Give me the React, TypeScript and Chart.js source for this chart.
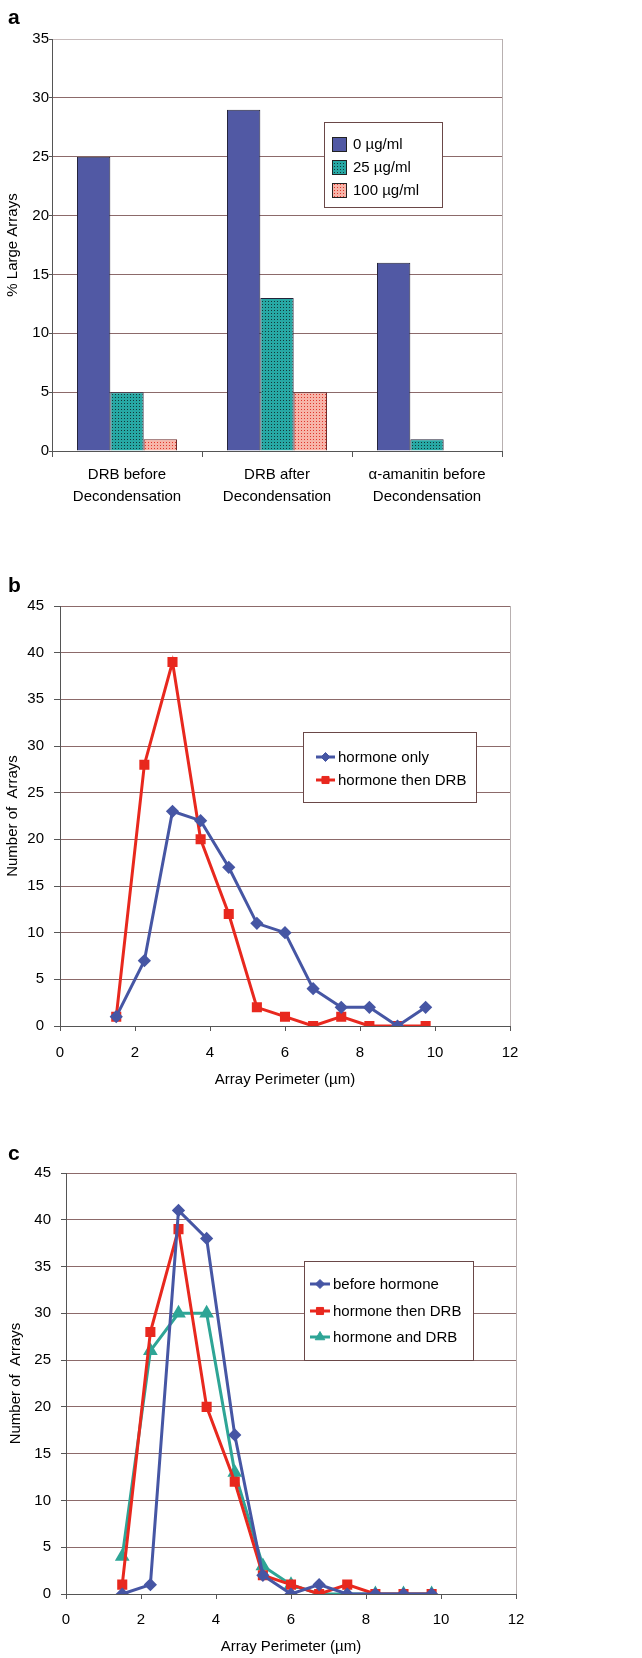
import React, { useEffect, useRef } from "react";
import { Chart, registerables } from "chart.js";

Chart.register(...registerables);

const FONT = '"Liberation Sans", Arial, Helvetica, sans-serif';
Chart.defaults.font.family = FONT;
Chart.defaults.font.size = 15;
Chart.defaults.color = "#000";

// ---------- DATA ----------
const barCategories = [
  ["DRB before", "Decondensation"],
  ["DRB after", "Decondensation"],
  ["α-amanitin before", "Decondensation"],
];
const bar0 = [25, 29, 16];
const bar25 = [5, 13, 1];
const bar100: (number | null)[] = [1, 5, null];
const barLabels = ["0 µg/ml", "25 µg/ml", "100 µg/ml"];

const perimeter = [1.5, 2.25, 3, 3.75, 4.5, 5.25, 6, 6.75, 7.5, 8.25, 9, 9.75];
const bHormoneOnly = [1, 7, 23, 22, 17, 11, 10, 4, 2, 2, 0, 2];
const bHormoneThenDRB = [1, 28, 39, 20, 12, 2, 1, 0, 1, 0, 0, 0];
const cBeforeHormone = [0, 1, 41, 38, 17, 2, 0, 1, 0, 0, 0, 0];
const cHormoneThenDRB = [1, 28, 39, 20, 12, 2, 1, 0, 1, 0, 0, 0];
const cHormoneAndDRB = [4, 26, 30, 30, 13, 3, 1, 0, 0, 0, 0, 0];

const BLUE = "#4656a4";
const RED = "#e8281e";
const TEAL = "#2ea596";
const GRID = "#8c6a6a";
const AXIS = "#555";
const FRAME = "#b8b0b0";

const toPts = (ys: number[]) => perimeter.map((x, i) => ({ x, y: ys[i] }));

function makePattern(bg: string, dot: string) {
  const c = document.createElement("canvas");
  c.width = 3;
  c.height = 3;
  const g = c.getContext("2d")!;
  g.fillStyle = bg;
  g.fillRect(0, 0, 3, 3);
  g.fillStyle = dot;
  g.fillRect(1, 1, 1, 1);
  return g.createPattern(c, "repeat")!;
}

function drawMarker(ctx: CanvasRenderingContext2D, style: string, x: number, y: number, r: number) {
  ctx.beginPath();
  if (style === "rect") {
    const s = Math.SQRT1_2 * r;
    ctx.rect(x - s, y - s, 2 * s, 2 * s);
  } else if (style === "rectRot") {
    ctx.moveTo(x, y - r);
    ctx.lineTo(x + r, y);
    ctx.lineTo(x, y + r);
    ctx.lineTo(x - r, y);
    ctx.closePath();
  } else if (style === "triangle") {
    const h = r * 1.5;
    ctx.moveTo(x, y - r);
    ctx.lineTo(x + h * 0.58, y + r * 0.5);
    ctx.lineTo(x - h * 0.58, y + r * 0.5);
    ctx.closePath();
  }
  ctx.fill();
  ctx.stroke();
}

const boxLegend = {
  id: "boxLegend",
  afterDraw(chart: any, _args: any, opts: any) {
    if (!opts || !opts.box) return;
    const ctx: CanvasRenderingContext2D = chart.ctx;
    const { x, y, w, h } = opts.box;
    ctx.save();
    ctx.fillStyle = "#fff";
    ctx.fillRect(x, y, w, h);
    ctx.strokeStyle = "#6a4848";
    ctx.lineWidth = 1;
    ctx.strokeRect(x + 0.5, y + 0.5, w, h);
    ctx.font = "15px " + FONT;
    ctx.textBaseline = "middle";
    ctx.textAlign = "left";
    chart.data.datasets.forEach((ds: any, i: number) => {
      const cy = opts.rows[i];
      if (opts.kind === "box") {
        ctx.fillStyle = ds.backgroundColor;
        ctx.fillRect(opts.sx, cy - 7, 15, 15);
        ctx.strokeStyle = "#222";
        ctx.strokeRect(opts.sx + 0.5, cy - 6.5, 14, 14);
      } else {
        ctx.strokeStyle = ds.borderColor;
        ctx.lineWidth = ds.borderWidth;
        ctx.beginPath();
        ctx.moveTo(opts.sx, cy);
        ctx.lineTo(opts.sx2, cy);
        ctx.stroke();
        ctx.fillStyle = ds.pointBackgroundColor;
        ctx.lineWidth = 1;
        drawMarker(ctx, ds.pointStyle, (opts.sx + opts.sx2) / 2, cy, ds.pointRadius);
      }
      ctx.fillStyle = "#000";
      ctx.fillText(ds.label, opts.tx, cy + 1);
    });
    ctx.restore();
  },
};

const frame = {
  id: "frame",
  beforeDatasetsDraw(chart: any) {
    const { ctx, chartArea } = chart;
    ctx.save();
    ctx.strokeStyle = FRAME;
    ctx.lineWidth = 1;
    ctx.beginPath();
    ctx.moveTo(Math.round(chartArea.right) + 0.5, chartArea.top);
    ctx.lineTo(Math.round(chartArea.right) + 0.5, chartArea.bottom);
    ctx.stroke();
    ctx.restore();
  },
};

function lineDs(label: string, ys: number[], color: string, style: string, r: number) {
  return {
    label,
    data: toPts(ys),
    borderColor: color,
    backgroundColor: color,
    pointBackgroundColor: color,
    pointBorderColor: color,
    pointStyle: style,
    pointRadius: r,
    borderWidth: 3,
    tension: 0,
  };
}

function lineOptions(cfg: any) {
  return {
    responsive: false,
    animation: false,
    events: [],
    layout: { padding: cfg.padding },
    plugins: {
      legend: { display: false },
      tooltip: { enabled: false },
      boxLegend: cfg.legend,
    },
    scales: {
      x: {
        type: "linear",
        min: 0,
        max: 12,
        ticks: { stepSize: 2, padding: cfg.xPad, color: "#000" },
        grid: { drawOnChartArea: false, drawTicks: true, tickLength: 5, tickColor: AXIS },
        border: { color: AXIS, width: 1 },
        title: { display: true, text: "Array Perimeter (µm)", padding: { top: 0, bottom: cfg.xTitlePad }, color: "#000" },
        afterFit: (s: any) => {
          s.height = cfg.xH;
        },
      },
      y: {
        min: 0,
        max: 45,
        ticks: { stepSize: 5, padding: cfg.yPad, color: "#000" },
        grid: { color: GRID, tickColor: AXIS, tickLength: cfg.yTick, lineWidth: 1 },
        border: { color: AXIS, width: 1 },
        title: { display: true, text: "Number of  Arrays", padding: { top: cfg.yTitlePad, bottom: 0 }, color: "#000" },
        afterFit: (s: any) => {
          s.width = cfg.yW;
        },
      },
    },
  };
}

function useChart(ref: React.RefObject<HTMLCanvasElement>, build: () => any) {
  useEffect(() => {
    if (!ref.current) return;
    const chart = new Chart(ref.current, build());
    return () => chart.destroy();
  }, []);
}

export default function App() {
  const aRef = useRef<HTMLCanvasElement>(null);
  const bRef = useRef<HTMLCanvasElement>(null);
  const cRef = useRef<HTMLCanvasElement>(null);

  useChart(aRef, () => {
    const teal = makePattern("#27a8a4", "#143838");
    const pink = makePattern("#f7b4a8", "#e0372c");
    return {
      type: "bar",
      data: {
        labels: barCategories,
        datasets: [
          { label: barLabels[0], data: bar0, backgroundColor: "#5159a4", borderColor: "#23233a", borderWidth: 1 },
          { label: barLabels[1], data: bar25, backgroundColor: teal, borderColor: "#23233a", borderWidth: 1 },
          { label: barLabels[2], data: bar100, backgroundColor: pink, borderColor: "#6a2a2a", borderWidth: 1 },
        ],
      },
      options: {
        responsive: false,
        animation: false,
        events: [],
        layout: { padding: { left: 0, top: 39, right: 140, bottom: 19 } },
        datasets: { bar: { categoryPercentage: 0.667, barPercentage: 1.0 } },
        plugins: {
          legend: { display: false },
          tooltip: { enabled: false },
          boxLegend: {
            kind: "box",
            box: { x: 324, y: 122, w: 118, h: 85 },
            rows: [144, 167, 190],
            sx: 332,
            tx: 353,
          },
        },
        scales: {
          x: {
            ticks: { padding: 7, color: "#000", font: { size: 15, lineHeight: 1.47 } },
            grid: { drawOnChartArea: false, drawTicks: true, tickLength: 6, tickColor: AXIS, offset: true },
            border: { color: AXIS, width: 1 },
            afterFit: (s: any) => {
              s.height = 60;
            },
          },
          y: {
            min: 0,
            max: 35,
            ticks: { stepSize: 5, padding: 0, color: "#000" },
            grid: {
              color: (c: any) => (c.tick && c.tick.value === 35 ? "#c8bcbc" : GRID),
              tickColor: AXIS,
              tickLength: 3,
            },
            border: { color: AXIS, width: 1 },
            title: { display: true, text: "% Large Arrays", padding: { top: 4, bottom: 0 }, color: "#000" },
            afterFit: (s: any) => {
              s.width = 52;
            },
          },
        },
      },
      plugins: [frame, boxLegend],
    };
  });

  useChart(bRef, () => ({
    type: "line",
    data: {
      datasets: [
        lineDs("hormone only", bHormoneOnly, BLUE, "rectRot", 4.5),
        lineDs("hormone then DRB", bHormoneThenDRB, RED, "rect", 5),
      ],
    },
    options: lineOptions({
      padding: { left: 0, top: 66, right: 132, bottom: 4 },
      xH: 70,
      xPad: 13,
      xTitlePad: 7,
      yW: 60,
      yPad: 10,
      yTick: 6,
      yTitlePad: 4,
      legend: {
        kind: "line",
        box: { x: 303, y: 192, w: 173, h: 70 },
        rows: [217, 240],
        sx: 316,
        sx2: 335,
        tx: 338,
      },
    }),
    plugins: [frame, boxLegend],
  }));

  useChart(cRef, () => ({
    type: "line",
    data: {
      datasets: [
        lineDs("before hormone", cBeforeHormone, BLUE, "rectRot", 4.5),
        lineDs("hormone then DRB", cHormoneThenDRB, RED, "rect", 5),
        lineDs("hormone and DRB", cHormoneAndDRB, TEAL, "triangle", 5.5),
      ],
    },
    options: lineOptions({
      padding: { left: 0, top: 73, right: 126, bottom: 0 },
      xH: 64,
      xPad: 12,
      xTitlePad: 2,
      yW: 66,
      yPad: 10,
      yTick: 5,
      yTitlePad: 7,
      legend: {
        kind: "line",
        box: { x: 304, y: 161, w: 169, h: 99 },
        rows: [184, 211, 237],
        sx: 310,
        sx2: 330,
        tx: 333,
      },
    }),
    plugins: [frame, boxLegend],
  }));

  const letter: React.CSSProperties = {
    position: "absolute",
    left: 8,
    fontFamily: FONT,
    fontWeight: "bold",
    fontSize: 21,
    lineHeight: "21px",
    color: "#000",
  };
  const cv = (top: number): React.CSSProperties => ({ position: "absolute", left: 0, top, display: "block" });

  return (
    <div style={{ position: "absolute", left: 0, top: 0, width: 642, height: 1658, background: "#fff", overflow: "hidden" }}>
      <canvas ref={aRef} width={642} height={530} style={cv(0)} />
      <canvas ref={bRef} width={642} height={560} style={cv(540)} />
      <canvas ref={cRef} width={642} height={558} style={cv(1100)} />
      <div style={{ ...letter, top: 6 }}>a</div>
      <div style={{ ...letter, top: 574 }}>b</div>
      <div style={{ ...letter, top: 1142 }}>c</div>
    </div>
  );
}
